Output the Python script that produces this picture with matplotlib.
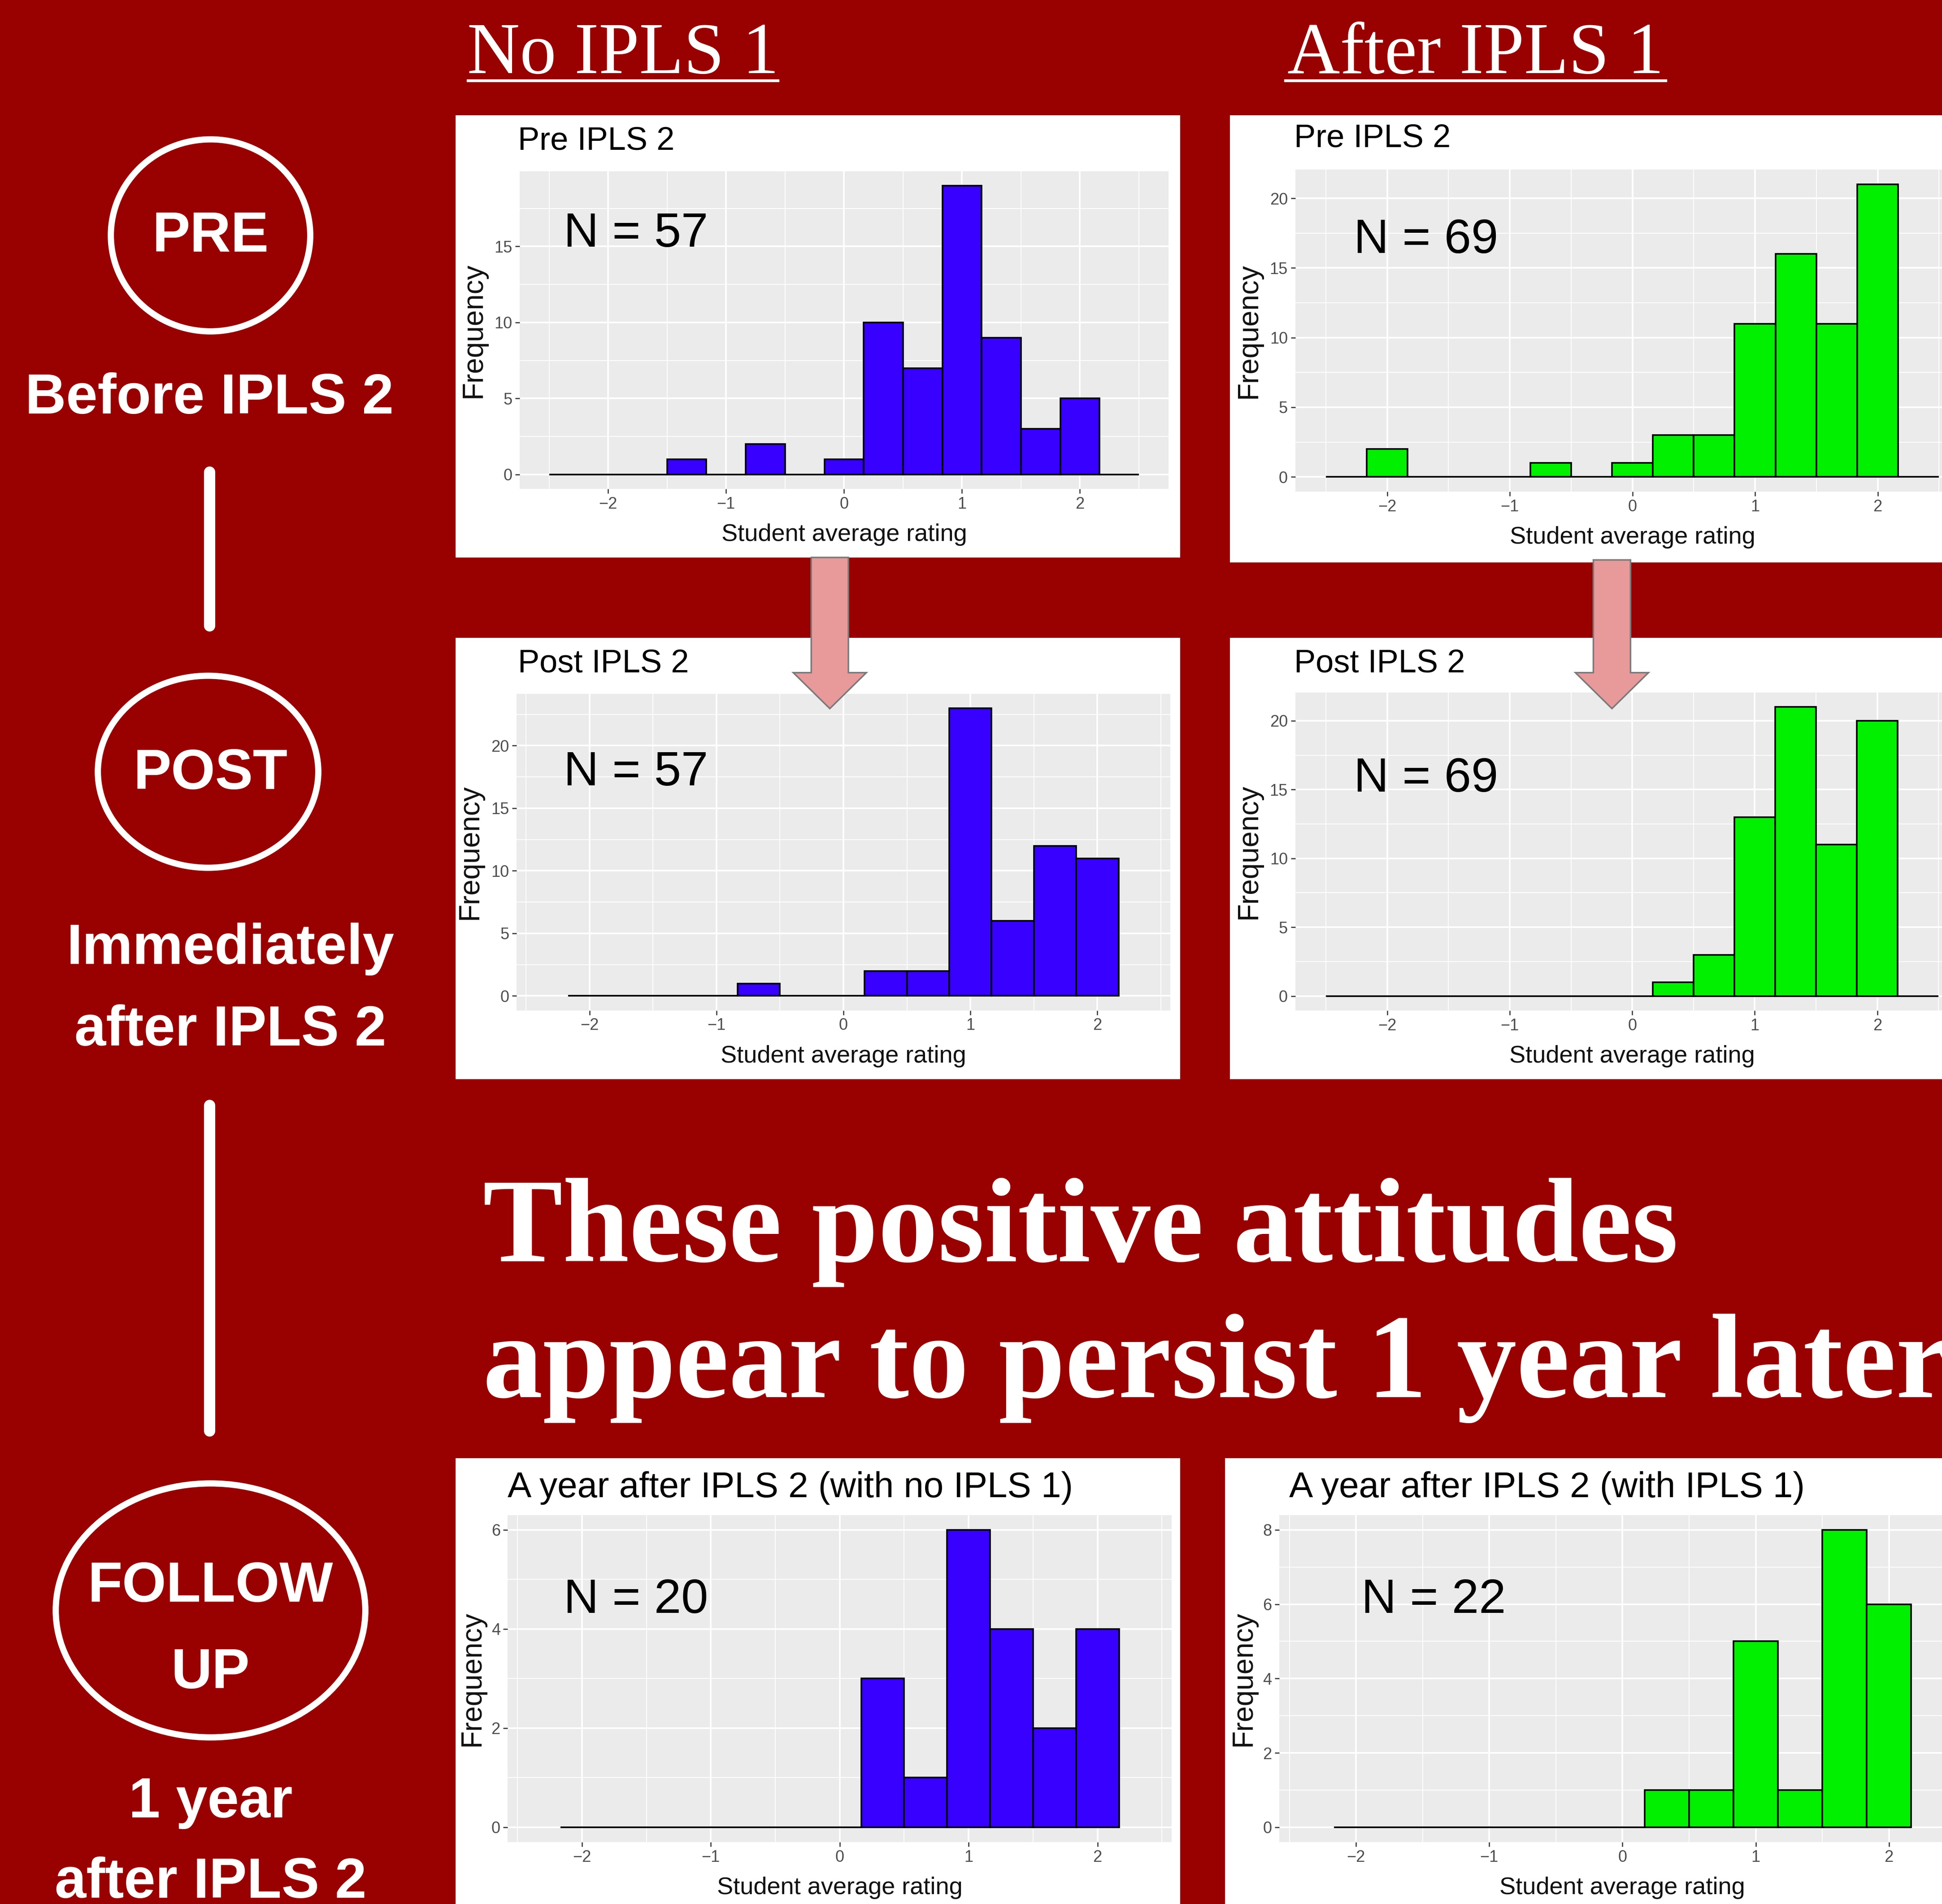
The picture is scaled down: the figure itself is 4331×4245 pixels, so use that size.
import numpy as np
import matplotlib
matplotlib.use('Agg')
import matplotlib.pyplot as plt
from matplotlib.patches import Rectangle, Ellipse, Polygon
from matplotlib.lines import Line2D

# ---- data ----
bin_width = 1 / 3
x_ticks = [-2, -1, 0, 1, 2]

pre_no_ipls1 = [0, 0, 0, 1, 0, 2, 0, 1, 10, 7, 19, 9, 3, 5, 0]
pre_after_ipls1 = [0, 2, 0, 0, 0, 1, 0, 1, 3, 3, 11, 16, 11, 21, 0]
post_no_ipls1 = [0, 0, 0, 0, 1, 0, 0, 2, 2, 23, 6, 12, 11]
post_after_ipls1 = [0, 0, 0, 0, 0, 0, 0, 0, 1, 3, 13, 21, 11, 20, 0]
year_no_ipls1 = [0, 0, 0, 0, 0, 0, 0, 3, 1, 6, 4, 2, 4]
year_after_ipls1 = [0, 0, 0, 0, 0, 0, 0, 1, 1, 5, 1, 8, 6]

panel_counts = [pre_no_ipls1, pre_after_ipls1, post_no_ipls1,
                post_after_ipls1, year_no_ipls1, year_after_ipls1]
panel_titles = ['Pre IPLS 2', 'Pre IPLS 2', 'Post IPLS 2', 'Post IPLS 2',
                'A year after IPLS 2 (with no IPLS 1)',
                'A year after IPLS 2 (with IPLS 1)']
sample_sizes = [57, 69, 57, 69, 20, 22]
y_steps = [5, 5, 5, 5, 2, 2]

column_headers = ['No IPLS 1', 'After IPLS 1']
headline = ['These positive attitudes', 'appear to persist 1 year later']

# ---- layout (in px of a 1568 x 1537 canvas) ----
W, H = 1568, 1537
BG = '#990000'
BLUE = '#3700FF'
GREEN = '#00F000'


def fx(x):
    return x / W


def fy(y):
    return 1 - y / H


def rect(x0, y0, x1, y1):
    return [fx(x0), fy(y1), (x1 - x0) / W, (y1 - y0) / H]


white_boxes = [(368, 93, 953, 450), (993, 93, 1615, 454),
               (368, 515, 953, 871), (993, 515, 1615, 871),
               (368, 1177, 953, 1545), (989, 1177, 1615, 1545)]
plot_boxes = [(419.6, 138.2, 943.4, 394.7), (1045.8, 137, 1590.3, 396.8),
              (417, 560, 945, 815.6), (1045.8, 559, 1590, 815.7),
              (410, 1223, 946, 1487), (1033, 1223, 1587, 1487)]
x_limits = [2.75, 2.75, 2.575, 2.75, 2.575, 2.575]
ylabel_gap = [37.5, 37.5, 37.5, 37.5, 29, 29]
title_pos = [(418, 114), (1045, 112), (418, 536), (1045, 536),
             (410, 1201), (1041, 1201)]
n_pos = [(455, 189), (1093, 194), (455, 624), (1093, 629),
         (455, 1292), (1099, 1292)]
colors = [BLUE, GREEN, BLUE, GREEN, BLUE, GREEN]

plt.rcParams['font.family'] = ['Liberation Sans', 'DejaVu Sans']

fig = plt.figure(figsize=(43.31, 42.45), dpi=100, facecolor=BG)

for (x0, y0, x1, y1) in white_boxes:
    fig.patches.append(Rectangle((fx(x0), fy(y1)), (x1 - x0) / W, (y1 - y0) / H,
                                 transform=fig.transFigure, facecolor='white',
                                 edgecolor='none', zorder=-1))

for i, counts in enumerate(panel_counts):
    ax = fig.add_axes(rect(*plot_boxes[i]))
    n = len(counts)
    edges = (np.arange(n + 1) - n / 2) * bin_width
    ax.bar(edges[:-1], counts, width=bin_width, align='edge', color=colors[i],
           edgecolor='black', linewidth=2.6, zorder=3)
    top = max(counts)
    ax.set_ylim(-0.05 * top, 1.05 * top)
    ax.set_xlim(-x_limits[i], x_limits[i])
    ax.set_facecolor('#EBEBEB')
    ax.set_xticks(x_ticks)
    ax.set_xticks(np.arange(-2.5, 2.6, 1.0), minor=True)
    step = y_steps[i]
    ax.set_yticks(np.arange(0, top + 0.1, step))
    ax.set_yticks(np.arange(step / 2, 1.05 * top, step), minor=True)
    ax.grid(which='major', color='white', linewidth=2.6)
    ax.grid(which='minor', color='white', linewidth=1.3)
    ax.set_axisbelow(True)
    for s in ax.spines.values():
        s.set_visible(False)
    ax.tick_params(which='major', length=7, width=1.8, color='#333333',
                   labelsize=26, labelcolor='#4D4D4D', pad=5)
    ax.tick_params(which='minor', length=0)

    px0, py0, px1, py1 = plot_boxes[i]
    fig.text(fx((px0 + px1) / 2), fy(py1 + 37), 'Student average rating',
             ha='center', va='center', fontsize=39, color='#111111')
    fig.text(fx(px0 - ylabel_gap[i]), fy((py0 + py1) / 2), 'Frequency', rotation=90,
             ha='center', va='center', fontsize=46, color='#111111')
    tsize = 52 if i < 4 else 57.5
    fig.text(fx(title_pos[i][0]), fy(title_pos[i][1]), panel_titles[i],
             ha='left', va='center', fontsize=tsize, color='black')
    fig.text(fx(n_pos[i][0]), fy(n_pos[i][1]), f'N = {sample_sizes[i]}',
             ha='left', va='center', fontsize=78, color='black')

# arrows between pre and post panels
for cx, y_start in [(670, 450), (1301.5, 452)]:
    pts = [(cx - 15, y_start), (cx + 15, y_start), (cx + 15, 543),
           (cx + 29.5, 543), (cx, 572), (cx - 29.5, 543), (cx - 15, 543)]
    fig.patches.append(Polygon([(fx(a), fy(b)) for a, b in pts], closed=True,
                               transform=fig.transFigure, facecolor='#E89A9A',
                               edgecolor='#7A7A7A', linewidth=2.5, zorder=10))

# column headers (underlined)
for label, x0, x1 in [(column_headers[0], 378, 628), (column_headers[1], 1038, 1345)]:
    fig.text(fx((x0 + x1) / 2), fy(59), label, ha='center', va='baseline',
             fontsize=117, color='white', family=['Liberation Serif', 'DejaVu Serif'])
    fig.lines.append(Line2D([fx(x0), fx(x1)], [fy(65), fy(65)], transform=fig.transFigure,
                            color='white', linewidth=4.5))

# headline
for line, base in zip(headline, [1018, 1128]):
    fig.text(fx(390), fy(base), line, ha='left', va='baseline', fontsize=192,
             fontweight='bold', color='white', family=['Liberation Serif', 'DejaVu Serif'])

# left timeline
bold = dict(fontweight='bold', color='white', ha='center', va='center', fontsize=91)
for (cx, cy, w, h) in [(170, 190, 161, 155), (168, 623, 178, 155), (170, 1300, 250, 205)]:
    fig.patches.append(Ellipse((fx(cx), fy(cy)), w / W, h / H, transform=fig.transFigure,
                               facecolor='none', edgecolor='white', linewidth=10))
for (y0, y1) in [(381, 505), (892, 1155)]:
    fig.lines.append(Line2D([fx(169), fx(169)], [fy(y0), fy(y1)], transform=fig.transFigure,
                            color='white', linewidth=18, solid_capstyle='round'))

stage_texts = [('PRE', 170, 191), ('Before IPLS 2', 169, 322), ('POST', 170, 625),
               ('Immediately', 186, 766), ('after IPLS 2', 186, 832),
               ('FOLLOW', 170, 1281), ('UP', 170, 1351), ('1 year', 170, 1455),
               ('after IPLS 2', 170, 1520)]
for txt, x, y in stage_texts:
    fig.text(fx(x), fy(y), txt, **bold)

fig.savefig('out.png', dpi=100, facecolor=BG)
